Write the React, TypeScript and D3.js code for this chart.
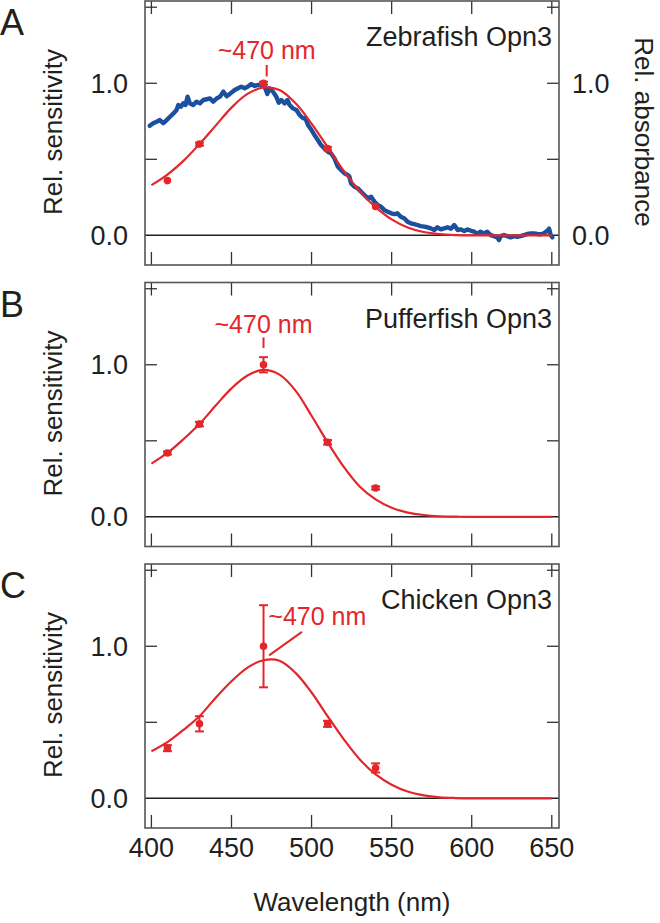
import React from 'react';
import * as d3 from 'd3';

// ---------- data ----------
const wavelengthTicks = [400, 450, 500, 550, 600, 650];
const yTickValues = [0.5, 1.0, 1.5];
const yLabelValues = [0.0, 1.0];

const panelLetters = ['A', 'B', 'C'];
const panelTitles = ['Zebrafish Opn3', 'Pufferfish Opn3', 'Chicken Opn3'];

const pointWavelengths = [410, 430, 470, 510, 540];
const zebrafishPoints = [0.36, 0.6, 1.0, 0.57, 0.19];
const zebrafishErrors = [0.005, 0.01, 0.01, 0.01, 0.005];
const pufferfishPoints = [0.42, 0.61, 1.0, 0.49, 0.19];
const pufferfishErrors = [0.01, 0.015, 0.05, 0.015, 0.01];
const chickenPoints = [0.33, 0.49, 1.0, 0.49, 0.2];
const chickenErrors = [0.02, 0.05, 0.27, 0.02, 0.03];

const fitWavelengths = [400, 410, 420, 430, 440, 450, 460, 470, 480, 490, 500, 510, 520, 530, 540, 550, 560, 570, 580, 590, 600, 625, 650];
const zebrafishFit = [0.33, 0.4, 0.49, 0.6, 0.72, 0.84, 0.93, 0.972, 0.955, 0.868, 0.735, 0.58, 0.425, 0.29, 0.186, 0.105, 0.052, 0.022, 0.008, 0.002, 0, 0, 0];
const pufferfishFit = [0.35, 0.42, 0.51, 0.61, 0.73, 0.845, 0.93, 0.966, 0.935, 0.83, 0.665, 0.49, 0.33, 0.2, 0.115, 0.06, 0.028, 0.012, 0.004, 0.001, 0, 0, 0];
const chickenFit = [0.31, 0.37, 0.45, 0.54, 0.66, 0.77, 0.86, 0.908, 0.905, 0.825, 0.696, 0.54, 0.39, 0.257, 0.157, 0.09, 0.045, 0.02, 0.007, 0.002, 0, 0, 0];

const absorbanceWavelengths = [
  399.0, 401.1, 403.2, 405.3, 407.4, 409.5, 411.6, 413.6, 415.7, 416.8, 418.4, 419.9, 421.3, 422.6, 424.0,
  426.1, 428.2, 430.3, 432.4, 434.5, 436.6, 438.6, 440.7, 442.8, 444.9, 447.0, 449.0, 452.0, 454.1, 456.1,
  458.2, 460.3, 462.4, 464.5, 466.6, 468.6, 470.7, 472.4, 473.8, 475.9, 478.0, 479.5, 481.1, 483.2, 484.9,
  486.3, 488.4, 490.5, 492.6, 494.7, 496.1, 497.8, 499.5, 501.8, 503.9, 505.9, 508.0, 510.1, 512.2, 514.3,
  516.4, 518.4, 520.5, 522.6, 523.6, 524.7, 526.8, 528.9, 530.9, 533.0, 535.1, 537.2, 539.3, 541.4, 543.4,
  545.5, 547.6, 549.7, 551.7, 553.6, 555.7, 557.8, 559.9, 562.0, 564.1, 566.1, 568.2, 570.3, 572.4, 574.5,
  576.6, 578.6, 580.7, 582.8, 584.9, 587.0, 589.1, 591.2, 593.3, 595.3, 597.4, 599.5, 601.6, 603.5, 605.5,
  607.6, 609.7, 611.8, 613.9, 615.9, 617.0, 618.0, 620.1, 622.2, 624.3, 626.4, 628.4, 630.5, 632.6, 634.7,
  636.8, 638.9, 641.0, 643.0, 645.1, 647.2, 648.3, 649.3, 650.3,
];
const absorbanceValues = [
  0.72, 0.737, 0.747, 0.758, 0.737, 0.758, 0.78, 0.8, 0.824, 0.857, 0.846, 0.868, 0.857, 0.912, 0.868,
  0.857, 0.879, 0.868, 0.89, 0.895, 0.9, 0.879, 0.9, 0.912, 0.945, 0.915, 0.93, 0.956, 0.967, 0.978,
  0.967, 0.978, 0.995, 0.982, 0.989, 0.989, 0.978, 0.93, 0.967, 0.945, 0.912, 0.872, 0.89, 0.868, 0.89,
  0.857, 0.835, 0.824, 0.791, 0.77, 0.77, 0.726, 0.7, 0.66, 0.627, 0.594, 0.572, 0.55, 0.539, 0.506,
  0.451, 0.43, 0.408, 0.397, 0.386, 0.342, 0.32, 0.309, 0.287, 0.265, 0.243, 0.254, 0.221, 0.199, 0.188,
  0.166, 0.155, 0.145, 0.14, 0.145, 0.122, 0.112, 0.09, 0.079, 0.074, 0.068, 0.061, 0.057, 0.053, 0.046,
  0.035, 0.053, 0.039, 0.046, 0.053, 0.044, 0.068, 0.035, 0.039, 0.028, 0.039, 0.03, 0.024, 0.01, 0.024,
  0.013, 0.024, 0.002, -0.005, -0.013, -0.031, -0.005, 0.002, -0.005, -0.013, -0.005, -0.009, -0.005, 0.002, 0.009,
  0.013, 0.013, 0.009, 0.007, 0.013, 0.03, 0.044, 0.002, -0.013,
];

// ---------- style / layout ----------
const RED = '#e3262b';
const BLUE = '#1d4f9f';
const FRAME = '#555555';
const TEXT = '#231f20';
const FONT = '"Liberation Sans", Arial, Helvetica, sans-serif';

const LEFT = 145;
const RIGHT = 559;
const PANEL_H = 264;
const panelTops = [1, 282.5, 564];

const x = d3.scaleLinear().domain([396, 654.5]).range([LEFT, RIGHT]);

type PanelProps = {
  idx: number;
  points: number[];
  errors: number[];
  fit: number[];
  absorbance?: boolean;
};

function Panel({ idx, points, errors, fit, absorbance }: PanelProps) {
  const top = panelTops[idx];
  const bottom = top + PANEL_H;
  const y = d3.scaleLinear().domain([-0.195, 1.541]).range([bottom, top]);
  const fitLine = d3
    .line<number>()
    .x((_, i) => x(fitWavelengths[i]))
    .y((d) => y(d))
    .curve(d3.curveCatmullRom.alpha(0.5));
  const absLine = d3
    .line<number>()
    .x((_, i) => x(absorbanceWavelengths[i]))
    .y((d) => y(d));
  const clipId = `clip-${idx}`;
  const y0 = y(0);
  const ylabelCenter = (y(1.541) + y(-0.195)) / 2;

  return (
    <g>
      <defs>
        <clipPath id={clipId}>
          <rect x={LEFT} y={top} width={RIGHT - LEFT} height={PANEL_H} />
        </clipPath>
      </defs>
      {/* zero line */}
      <line x1={LEFT} x2={RIGHT} y1={y0} y2={y0} stroke="#222" strokeWidth={1.5} />
      {/* x ticks top & bottom */}
      {wavelengthTicks.map((t) => (
        <g key={`xt${t}`}>
          <line x1={x(t)} x2={x(t)} y1={top} y2={top + 13} stroke="#333" strokeWidth={1.3} />
          <line x1={x(t)} x2={x(t)} y1={bottom} y2={bottom - 13} stroke="#333" strokeWidth={1.3} />
        </g>
      ))}
      {/* y ticks left & right */}
      {yTickValues.map((t) => (
        <g key={`yt${t}`}>
          <line x1={LEFT} x2={LEFT + 12} y1={y(t)} y2={y(t)} stroke="#333" strokeWidth={1.3} />
          <line x1={RIGHT} x2={RIGHT - 12} y1={y(t)} y2={y(t)} stroke="#333" strokeWidth={1.3} />
        </g>
      ))}
      {/* frame */}
      <rect x={LEFT} y={top} width={RIGHT - LEFT} height={PANEL_H} fill="none" stroke={FRAME} strokeWidth={1.6} />
      {/* left tick labels */}
      {yLabelValues.map((t) => (
        <text key={`yl${t}`} x={128} y={y(t)} dy="0.35em" textAnchor="end" fontSize={27} fill={TEXT} fontFamily={FONT}>
          {t.toFixed(1)}
        </text>
      ))}
      {absorbance &&
        yLabelValues.map((t) => (
          <text key={`yr${t}`} x={572} y={y(t)} dy="0.35em" textAnchor="start" fontSize={27} fill={TEXT} fontFamily={FONT}>
            {t.toFixed(1)}
          </text>
        ))}
      <text
        transform={`translate(62, ${ylabelCenter - 1}) rotate(-90)`}
        textAnchor="middle"
        fontSize={26}
        fill={TEXT}
        fontFamily={FONT}
      >
        Rel. sensitivity
      </text>
      {absorbance && (
        <text
          transform={`translate(635, ${ylabelCenter - 1}) rotate(90)`}
          textAnchor="middle"
          fontSize={26}
          fill={TEXT}
          fontFamily={FONT}
        >
          Rel. absorbance
        </text>
      )}
      {/* panel letter */}
      <text x={0} y={top + 34} fontSize={36} fill={TEXT} fontFamily={FONT}>
        {panelLetters[idx]}
      </text>
      {/* title */}
      <text x={552} y={top + 45} textAnchor="end" fontSize={27} fill={TEXT} fontFamily={FONT}>
        {panelTitles[idx]}
      </text>
      <g clipPath={`url(#${clipId})`}>
        {absorbance && (
          <path d={absLine(absorbanceValues) || ''} fill="none" stroke={BLUE} strokeWidth={4.4} strokeLinejoin="round" strokeLinecap="round" />
        )}
        <path d={fitLine(fit) || ''} fill="none" stroke={RED} strokeWidth={2.2} />
      </g>
      {/* points with error bars */}
      {pointWavelengths.map((w, i) => {
        const cx = x(w);
        const e = errors[i];
        const yt = y(points[i] + e);
        const yb = y(points[i] - e);
        return (
          <g key={`p${w}`}>
            {e > 0.008 && (
              <g stroke={RED} strokeWidth={2}>
                <line x1={cx} x2={cx} y1={yt} y2={yb} />
                <line x1={cx - 4.5} x2={cx + 4.5} y1={yt} y2={yt} />
                <line x1={cx - 4.5} x2={cx + 4.5} y1={yb} y2={yb} />
              </g>
            )}
            <circle cx={cx} cy={y(points[i])} r={3.8} fill={RED} />
          </g>
        );
      })}
    </g>
  );
}

export default function App() {
  const yA = d3.scaleLinear().domain([-0.195, 1.541]).range([panelTops[0] + PANEL_H, panelTops[0]]);
  const yB = d3.scaleLinear().domain([-0.195, 1.541]).range([panelTops[1] + PANEL_H, panelTops[1]]);
  const yC = d3.scaleLinear().domain([-0.195, 1.541]).range([panelTops[2] + PANEL_H, panelTops[2]]);
  const bottomC = panelTops[2] + PANEL_H;
  return (
    <svg width={660} height={923} style={{ position: 'absolute', left: 0, top: 0, background: '#fff' }}>
      <rect x={0} y={0} width={660} height={923} fill="#fff" />
      <Panel idx={0} points={zebrafishPoints} errors={zebrafishErrors} fit={zebrafishFit} absorbance />
      <Panel idx={1} points={pufferfishPoints} errors={pufferfishErrors} fit={pufferfishFit} />
      <Panel idx={2} points={chickenPoints} errors={chickenErrors} fit={chickenFit} />

      {/* annotations */}
      <text x={x(472)} y={yA(1.16)} textAnchor="middle" fontSize={25} fill={RED} fontFamily={FONT}>~470 nm</text>
      <line x1={x(472)} x2={x(472)} y1={yA(1.12)} y2={yA(1.045)} stroke={RED} strokeWidth={2} />

      <text x={x(470)} y={yB(1.21)} textAnchor="middle" fontSize={25} fill={RED} fontFamily={FONT}>~470 nm</text>
      <line x1={x(470)} x2={x(470)} y1={yB(1.18)} y2={yB(1.11)} stroke={RED} strokeWidth={2} />

      <text x={x(473)} y={yC(1.14)} textAnchor="start" fontSize={25} fill={RED} fontFamily={FONT}>~470 nm</text>
      <line x1={x(473.5)} x2={x(494)} y1={yC(0.94)} y2={yC(1.095)} stroke={RED} strokeWidth={2} />

      {/* bottom axis labels */}
      {wavelengthTicks.map((t) => (
        <text key={`xl${t}`} x={x(t)} y={bottomC + 29} textAnchor="middle" fontSize={27} fill={TEXT} fontFamily={FONT}>
          {t}
        </text>
      ))}
      <text x={(LEFT + RIGHT) / 2} y={911} textAnchor="middle" fontSize={26} fill={TEXT} fontFamily={FONT}>
        Wavelength (nm)
      </text>
    </svg>
  );
}
